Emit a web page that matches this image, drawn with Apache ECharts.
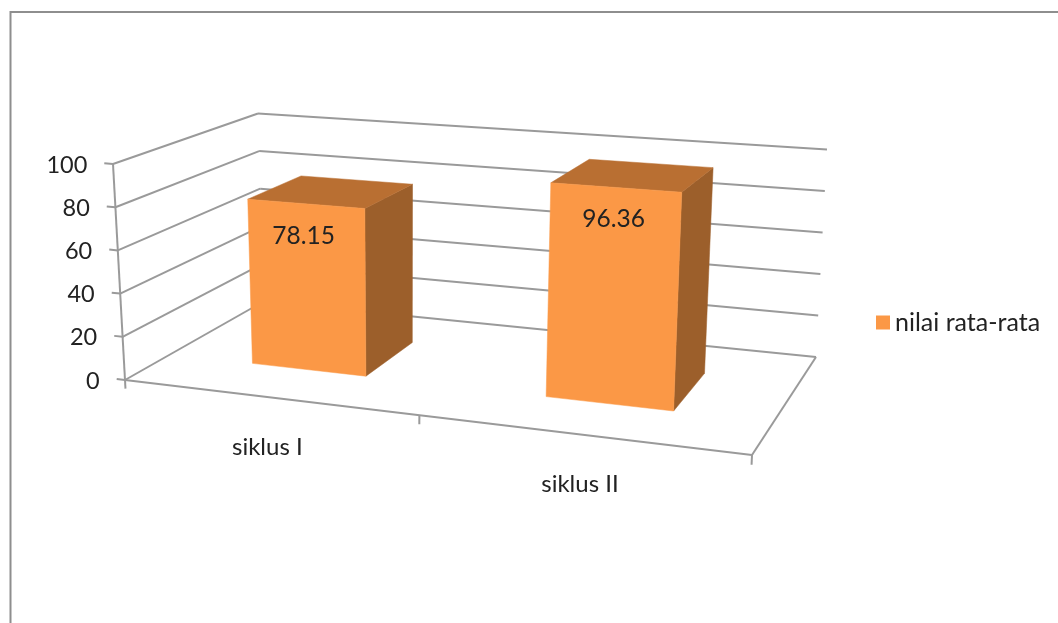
<!DOCTYPE html>
<html>
<head>
<meta charset="utf-8">
<style>html,body{margin:0;padding:0;background:#fff}#c{width:1058px;height:623px}</style>
<script src="https://cdn.jsdelivr.net/npm/echarts@6/dist/echarts.min.js"></script>
</head>
<body>
<div id="c"></div>
<script>
var categories = ['siklus I', 'siklus II'];
var seriesName = 'nilai rata-rata';
var values = [78.15, 96.36];
var yTicks = [0, 20, 40, 60, 80, 100];

// Perspective frame of the 3D box, [u, w] corners at floor and ceiling
var floorQuad = [[125,380],[752,455],[816,357],[263.5,301.5]];
var topQuad   = [[113,164],[762.6,212],[827,149.5],[258,113.5]];
var BAR_FRACTION = 0.4, DEPTH_NEAR = 0.3, DEPTH_FAR = 0.7;
var FONT = 'Lato';
var FRONT = '#FB9846', TOP = '#B96F32', SIDE = '#9C5F2B', GRID = '#9a9a9a', TEXT = '#222222';

function homography(q) {
  var dx1=q[1][0]-q[2][0], dx2=q[3][0]-q[2][0], sx=q[0][0]-q[1][0]+q[2][0]-q[3][0];
  var dy1=q[1][1]-q[2][1], dy2=q[3][1]-q[2][1], sy=q[0][1]-q[1][1]+q[2][1]-q[3][1];
  var den=dx1*dy2-dx2*dy1, g=(sx*dy2-dx2*sy)/den, h=(dx1*sy-sx*dy1)/den;
  var a=q[1][0]-q[0][0]+g*q[1][0], b=q[3][0]-q[0][0]+h*q[3][0], c=q[0][0];
  var d=q[1][1]-q[0][1]+g*q[1][1], e=q[3][1]-q[0][1]+h*q[3][1], f=q[0][1];
  return function(u,w){var k=g*u+h*w+1;return [(a*u+b*w+c)/k,(d*u+e*w+f)/k];};
}
var floorH = homography(floorQuad), topH = homography(topQuad);
function project(u,v,w){
  var p=floorH(u,w), t=topH(u,w);
  return [p[0]+(t[0]-p[0])*v, p[1]+(t[1]-p[1])*v];
}
// grid-pixel -> normalised box coordinates, via the axes' own scales
function norm(params, api, cat, val){
  var cs=params.coordSys, p=api.coord([cat,val]);
  return {u:(p[0]-cs.x)/cs.width, v:(cs.y+cs.height-p[1])/cs.height};
}
function seg(a,b,lw){
  return {type:'line',shape:{x1:a[0],y1:a[1],x2:b[0],y2:b[1]},style:{stroke:GRID,lineWidth:lw||2}};
}
function label(t,x,y,align,size){
  return {type:'text',style:{text:t,x:x,y:y,align:align,verticalAlign:'middle',fill:TEXT,font:(size||24)+'px '+FONT}};
}

function renderWall(params, api){
  var val=api.value(1), n=norm(params,api,0,val), v=n.v;
  var a=project(0,v,0), b=project(0,v,1), c=project(1,v,1), t=project(-0.015,v,0);
  var ch=[seg(a,b),seg(b,c),seg(t,a),label(String(val),t[0]-17,t[1]+2,'right',23.5)];
  if(val===0){
    var d=project(1,0,0);
    ch.push(seg(a,d),seg(d,c),seg(a,project(0,1,0)));
    ch.push(seg(a,project(0,-0.04,0)),seg(project(.5,0,0),project(.5,-0.04,0)),seg(d,project(1,-0.04,0)));
  }
  return {type:'group',children:ch};
}
function renderCat(params, api){
  var i=api.value(0), n=norm(params,api,i,0), p=project(n.u,0,0);
  return label(categories[i],p[0]-0.5,p[1]+50,'center',24);
}
function renderBar(params, api){
  var i=api.value(0), val=api.value(1), n=norm(params,api,i,val);
  var half=api.size([1,0])[0]/params.coordSys.width*BAR_FRACTION/2;
  var u0=n.u-half,u1=n.u+half,v=n.v,w0=DEPTH_NEAR,w1=DEPTH_FAR;
  var P=function(u,vv,w){return project(u,vv,w);};
  function poly(pts,col){return {type:'polygon',shape:{points:pts},style:{fill:col,stroke:col,lineWidth:.5}};}
  var lp=P(n.u,v,w0);
  return {type:'group',children:[
    poly([P(u1,0,w0),P(u1,0,w1),P(u1,v,w1),P(u1,v,w0)],SIDE),
    poly([P(u0,v,w0),P(u1,v,w0),P(u1,v,w1),P(u0,v,w1)],TOP),
    poly([P(u0,0,w0),P(u1,0,w0),P(u1,v,w0),P(u0,v,w0)],FRONT),
    label(String(val),lp[0]-2,lp[1]+32,'center',24.5)
  ]};
}

var chart=echarts.init(document.getElementById('c'),null,{renderer:'canvas'});
chart.setOption({
  animation:false,
  backgroundColor:'#fff',
  grid:{left:0,right:0,top:0,bottom:0},
  xAxis:{type:'category',data:categories,show:false},
  yAxis:{type:'value',min:0,max:100,interval:20,show:false},
  legend:{show:true,left:876,top:310,icon:'rect',itemWidth:14,itemHeight:14,itemGap:9,
    data:[seriesName],textStyle:{fontFamily:FONT,fontSize:25,color:TEXT},selectedMode:false,padding:0},
  graphic:[
    {type:'line',shape:{x1:10,y1:12,x2:1058,y2:12},style:{stroke:'#8e8e8e',lineWidth:2}},
    {type:'line',shape:{x1:10.5,y1:11,x2:10.5,y2:623},style:{stroke:'#8e8e8e',lineWidth:2}}
  ],
  series:[
    {type:'custom',name:'grid',renderItem:renderWall,data:yTicks.map(function(t){return [0,t];}),silent:true,z:1,clip:false},
    {type:'custom',name:'cats',renderItem:renderCat,data:categories.map(function(c,i){return [i,0];}),silent:true,z:1,clip:false},
    {type:'custom',name:seriesName,renderItem:renderBar,itemStyle:{color:FRONT},
      data:values.map(function(v,i){return [i,v];}),z:2,clip:false}
  ]
});
</script>
</body>
</html>
